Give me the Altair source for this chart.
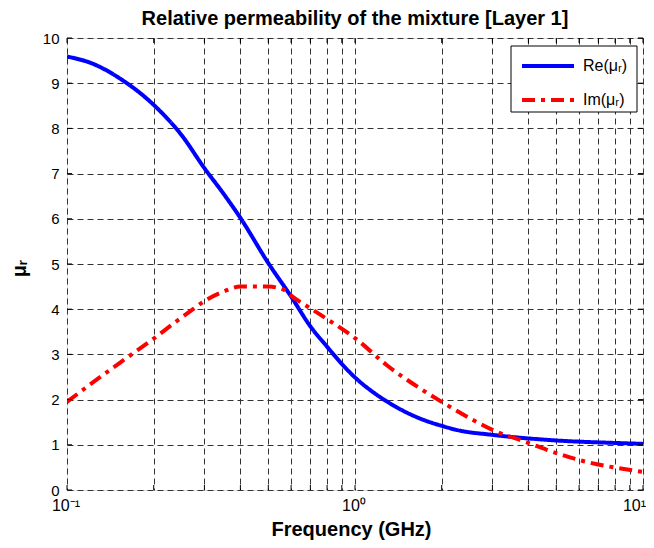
import altair as alt
import pandas as pd

# ---- data ----
series_names = ["Re(μᵣ)", "Im(μᵣ)"]
series_colors = ["#0000ff", "#ff0000"]
series_dash = [[1, 0], [13, 6, 4, 6]]

re_freq = [0.1, 0.123, 0.153, 0.2, 0.25, 0.3, 0.35, 0.4, 0.5, 0.6, 0.7, 0.8, 0.9,
           1.0, 1.13, 1.32, 1.73, 2.0, 2.25, 3.0, 4.63, 9.0, 10.0]
re_vals = [9.59, 9.43, 9.10, 8.52, 7.85, 7.12, 6.55, 6.02, 5.02, 4.28, 3.62, 3.17, 2.79,
           2.49, 2.21, 1.92, 1.55, 1.42, 1.33, 1.22, 1.11, 1.03, 1.02]

im_freq = [0.1, 0.123, 0.153, 0.172, 0.2, 0.234, 0.274, 0.3, 0.349, 0.4, 0.5, 0.57, 0.6,
           0.7, 0.8, 1.0, 1.29, 1.68, 2.0, 2.57, 3.0, 4.05, 4.63, 6.04, 10.0]
im_vals = [1.95, 2.38, 2.82, 3.05, 3.35, 3.68, 4.0, 4.18, 4.39, 4.50, 4.50, 4.42, 4.30,
           4.02, 3.78, 3.36, 2.76, 2.25, 1.95, 1.55, 1.33, 1.03, 0.89, 0.66, 0.40]

x_grid = [0.1, 0.2, 0.3, 0.4, 0.5, 0.6, 0.7, 0.8, 0.9,
          1, 2, 3, 4, 5, 6, 7, 8, 9, 10]
y_ticks = [0, 1, 2, 3, 4, 5, 6, 7, 8, 9, 10]
x_label_vals = [0.1, 1, 10]
x_label_text = ["10⁻¹", "10⁰", "10¹"]

title_text = "Relative permeability of the mixture [Layer 1]"
x_title = "Frequency (GHz)"
y_title = "μᵣ"

df = pd.concat([
    pd.DataFrame({"freq": re_freq, "value": re_vals, "series": series_names[0]}),
    pd.DataFrame({"freq": im_freq, "value": im_vals, "series": series_names[1]}),
], ignore_index=True)

W, H = 576, 452
FONT = "Liberation Sans"

xscale = alt.Scale(type="log", domain=[0.1, 10], nice=False)
yscale = alt.Scale(domain=[0, 10], nice=False)

lines = alt.Chart(df).mark_line(strokeWidth=4, clip=True, interpolate="monotone").encode(
    x=alt.X("freq:Q", scale=xscale,
            axis=alt.Axis(values=x_grid, labels=False, grid=True,
                          gridDash=[6, 4], gridColor="#333333", gridWidth=1,
                          ticks=False, domain=False,
                          title=x_title, titleFont=FONT, titleFontSize=20,
                          titleFontWeight="bold", titleColor="black",
                          titleX=284, titleY=45, titleBaseline="alphabetic")),
    y=alt.Y("value:Q", scale=yscale,
            axis=alt.Axis(values=y_ticks, grid=True, gridDash=[6, 4],
                          gridColor="#333333", gridWidth=1, ticks=False, domain=False,
                          labelFlush=False, labelFont=FONT, labelFontSize=15,
                          labelColor="black", labelPadding=8,
                          title=y_title, titleFont=FONT, titleFontSize=20,
                          titleFontWeight="bold", titleColor="black",
                          titleX=-38, titleY=230, titleAngle=270)),
    color=alt.Color("series:N", sort=series_names,
                    scale=alt.Scale(domain=series_names, range=series_colors),
                    legend=None),
    strokeDash=alt.StrokeDash("series:N", sort=series_names,
                              scale=alt.Scale(domain=series_names, range=series_dash),
                              legend=None),
)

xt = pd.DataFrame({"freq": x_grid})
yt = pd.DataFrame({"value": y_ticks})

tick_bottom = alt.Chart(xt).mark_rule(color="black", strokeWidth=1).encode(
    x=alt.X("freq:Q", scale=xscale), y=alt.value(H), y2=alt.value(H - 5))
tick_top = alt.Chart(xt).mark_rule(color="black", strokeWidth=1).encode(
    x=alt.X("freq:Q", scale=xscale), y=alt.value(0), y2=alt.value(5))
tick_left = alt.Chart(yt).mark_rule(color="black", strokeWidth=1).encode(
    y=alt.Y("value:Q", scale=yscale), x=alt.value(0), x2=alt.value(5))
tick_right = alt.Chart(yt).mark_rule(color="black", strokeWidth=1).encode(
    y=alt.Y("value:Q", scale=yscale), x=alt.value(W - 5), x2=alt.value(W))

# ---- x tick labels (decades) ----
xl = pd.DataFrame({"freq": x_label_vals, "t": x_label_text})
xlab_mid = alt.Chart(xl.iloc[:2]).mark_text(
    align="center", baseline="top", font=FONT, fontSize=16, color="black", dx=-1).encode(
    x=alt.X("freq:Q", scale=xscale), y=alt.value(H + 8), text="t:N")
xlab_end = alt.Chart(xl.iloc[2:]).mark_text(
    align="right", baseline="top", font=FONT, fontSize=16, color="black", dx=3).encode(
    x=alt.X("freq:Q", scale=xscale), y=alt.value(H + 8), text="t:N")

# ---- legend box (drawn manually) ----
leg_box = alt.Chart(pd.DataFrame({"k": [0]})).mark_rect(
    fill="white", stroke="black", strokeWidth=1).encode(
    x=alt.value(444), x2=alt.value(570), y=alt.value(8), y2=alt.value(74))

leg_layers = []
for i, (name, col, dash) in enumerate(zip(series_names, series_colors, series_dash)):
    yy = 28 + 34 * i
    d = pd.DataFrame({"series": [name]})
    leg_layers.append(alt.Chart(d).mark_rule(color=col, strokeWidth=4, strokeDash=dash).encode(
        x=alt.value(455), x2=alt.value(507), y=alt.value(yy)))
    leg_layers.append(alt.Chart(d).mark_text(
        align="left", baseline="middle", font=FONT, fontSize=16, color="black").encode(
        x=alt.value(516), y=alt.value(yy), text="series:N"))

chart = alt.layer(lines, tick_bottom, tick_top, tick_left, tick_right,
                  xlab_mid, xlab_end, leg_box, *leg_layers).properties(
    width=W, height=H,
    autosize=alt.AutoSizeParams(type="none"),
    padding={"left": 59, "top": 30, "right": 3, "bottom": 50},
    title=alt.TitleParams(title_text, font=FONT, fontSize=20, fontWeight="bold",
                          color="black", anchor="middle", frame="group", offset=2),
).configure_view(stroke="black", strokeWidth=1).configure(background="white")

chart.save("out.html", embed_options={"renderer": "svg", "actions": False})
